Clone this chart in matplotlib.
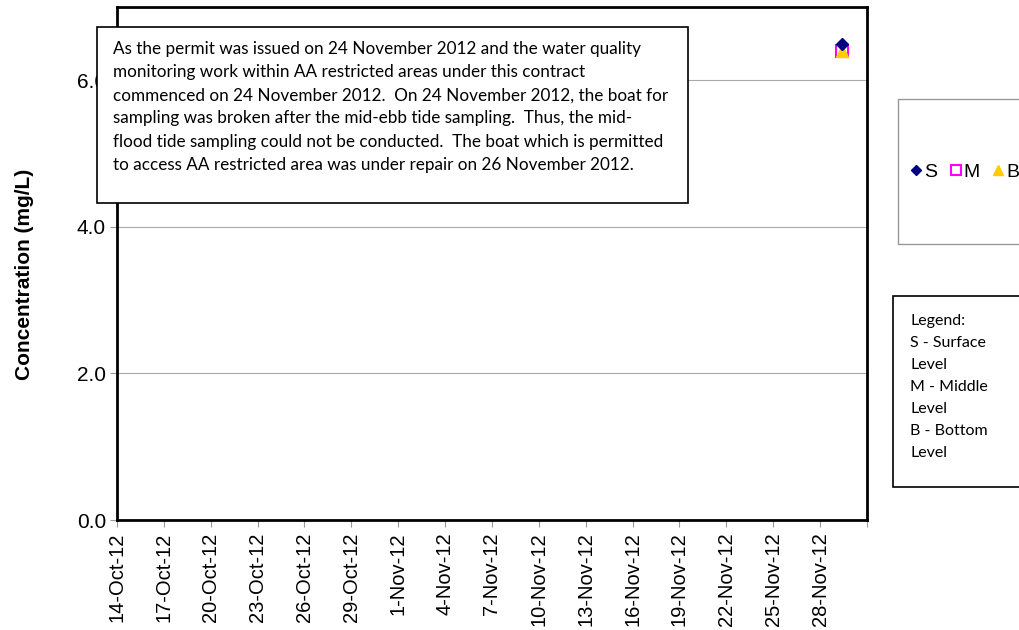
#!/usr/bin/env python3

import datetime as dt

from matplotlib import pyplot as plt
from matplotlib import dates as mdates
from matplotlib.patches import Rectangle

# Data
sample_dates = [dt.datetime(2012, 11, 29, 10, 0)]
surface = [6.5]
middle = [6.4]
bottom = [6.4]

series_labels = ["S", "M", "B"]
y_ticks = [0.0, 2.0, 4.0, 6.0]
x_start = dt.datetime(2012, 10, 14)
x_end = dt.datetime(2012, 12, 1)

note = ("As the permit was issued on 24 November 2012 and the water quality\n"
        "monitoring work within AA restricted areas under this contract\n"
        "commenced on 24 November 2012.  On 24 November 2012, the boat for\n"
        "sampling was broken after the mid-ebb tide sampling.  Thus, the mid-\n"
        "flood tide sampling could not be conducted.  The boat which is permitted\n"
        "to access AA restricted area was under repair on 26 November 2012.")
level_note = "Legend:\nS - Surface\nLevel\nM - Middle\nLevel\nB - Bottom\nLevel"

W, H = 1019, 630
ARIAL = "Liberation Sans"


def px(x, y):
    # pixel coords (from top-left) -> figure fraction
    return x / W, 1 - y / H


fig = plt.figure(figsize=(W / 100, H / 100), dpi=100)
ax = fig.add_axes([117 / W, 1 - 520 / H, (867 - 117) / W, (520 - 7) / H])

m_line, = ax.plot(sample_dates, middle, ls="none", marker="s", ms=9,
                  mfc="none", mec="#FF00FF", mew=1.5, label=series_labels[1])
b_line, = ax.plot(sample_dates, bottom, ls="none", marker="^", ms=8,
                  color="#FFCC00", label=series_labels[2])
s_line, = ax.plot(sample_dates, surface, ls="none", marker="D", ms=6,
                  color="#000080", label=series_labels[0])

ax.set_xlim(x_start, x_end)
ax.set_ylim(0, 7)
ax.set_yticks(y_ticks)
ax.set_yticklabels([f"{v:.1f}" for v in y_ticks], fontsize=15, family=ARIAL)
ticks = mdates.drange(x_start, x_end + dt.timedelta(days=1), dt.timedelta(days=3))
ax.set_xticks(ticks)
labels = [mdates.num2date(t).strftime("%-d-%b-%y") for t in ticks]
labels[-1] = ""
ax.set_xticklabels(labels, rotation=90, fontsize=14.5, family=ARIAL)
ax.tick_params(axis="both", color="#999999", length=5, width=0.8)
ax.tick_params(axis="x", pad=4)
ax.tick_params(axis="y", pad=3)

for v in y_ticks[1:]:
    ax.axhline(v, color="#AAAAAA", lw=0.8, zorder=0)
for sp in ax.spines.values():
    sp.set_linewidth(2)
    sp.set_color("black")

fig.text(*px(25, 274), "Concentration (mg/L)", rotation=90, ha="center",
         va="center", fontsize=15, fontweight="bold", family=ARIAL)

# Note box over the plot
x0, y0 = px(97, 203)
x1, y1 = px(688, 27)
fig.add_artist(Rectangle((x0, y0), x1 - x0, y1 - y0, transform=fig.transFigure,
                         facecolor="white", edgecolor="black", lw=1.2, zorder=5))
fig.text(*px(113, 41), note, ha="left", va="top", fontsize=12.3,
         family="Lato", linespacing=1.55, zorder=6)

# Series legend box
x0, y0 = px(898, 244)
x1, y1 = px(1030, 99)
fig.add_artist(Rectangle((x0, y0), x1 - x0, y1 - y0, transform=fig.transFigure,
                         facecolor="white", edgecolor="#999999", lw=1, zorder=5))
leg = fig.legend([s_line, m_line, b_line], series_labels, ncol=3, frameon=False,
                 loc="center left", bbox_to_anchor=px(911, 172),
                 handlelength=0.5, handletextpad=0.15, columnspacing=0.72,
                 markerscale=0.85, prop={"family": ARIAL, "size": 14},
                 borderpad=0, borderaxespad=0)
leg.set_zorder(6)

# Level legend box
x0, y0 = px(893, 487)
x1, y1 = px(1030, 296)
fig.add_artist(Rectangle((x0, y0), x1 - x0, y1 - y0, transform=fig.transFigure,
                         facecolor="white", edgecolor="black", lw=1.2, zorder=5))
fig.text(*px(910, 314), level_note, ha="left", va="top", fontsize=11.5,
         family="Lato", linespacing=1.72, zorder=6)

fig.savefig("out.png", dpi=100)
